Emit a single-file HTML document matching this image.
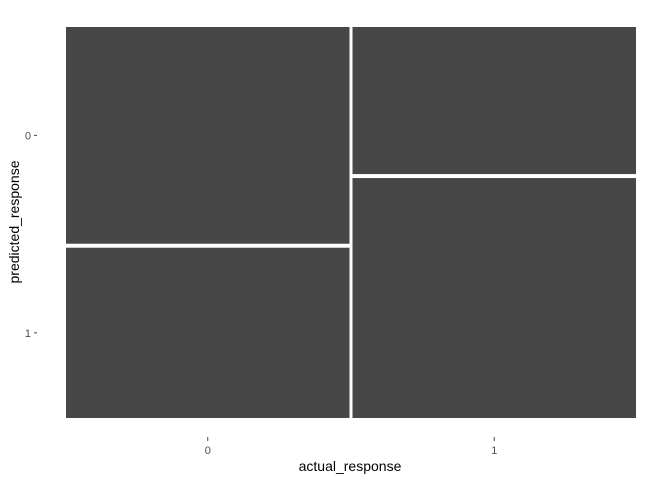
<!DOCTYPE html>
<html><head><meta charset="utf-8"><style>
html,body{margin:0;padding:0;background:#fff;}
svg{display:block;font-family:"Liberation Sans",Arial,sans-serif;}
</style></head><body>
<svg id="chart" width="672" height="480" viewBox="0 0 672 480">
<g id="tiles"></g>
<g id="axes"></g>
<text x="350" y="471" text-anchor="middle" font-size="14" fill="#000">actual_response</text>
<text transform="translate(19,222) rotate(-90)" text-anchor="middle" font-size="14" fill="#000">predicted_response</text>
</svg>
<script>
const xCategories = ["0", "1"];
const yCategories = ["0", "1"];
const counts0 = [56, 44];
const counts1 = [38, 62];
const counts = [counts0, counts1];

const NS = "http://www.w3.org/2000/svg";
const L = 66, R = 636, T = 27, B = 418, GX = 3, GY = 4;
const totals = counts.map(c => c.reduce((a, b) => a + b, 0));
const grand = totals.reduce((a, b) => a + b, 0);
const W = R - L - GX * (counts.length - 1);
const H = B - T;
const tiles = document.getElementById('tiles');
const axes = document.getElementById('axes');
let x = L;
const colCenters = [];
const firstColCenters = [];
counts.forEach((col, i) => {
  const w = W * totals[i] / grand;
  const hAvail = H - GY * (col.length - 1);
  let y = T;
  col.forEach((v, j) => {
    const h = hAvail * v / totals[i];
    const r = document.createElementNS(NS, 'rect');
    r.setAttribute('x', x); r.setAttribute('y', y);
    r.setAttribute('width', w); r.setAttribute('height', h);
    r.setAttribute('fill', '#474747');
    
    
    tiles.appendChild(r);
    if (i === 0) firstColCenters.push(y + h / 2);
    y += h + GY;
  });
  colCenters.push(x + w / 2);
  x += w + GX;
});
xCategories.forEach((c, i) => {
  const cx = colCenters[i];
  const tk = document.createElementNS(NS, 'line');
  tk.setAttribute('x1', cx); tk.setAttribute('x2', cx);
  tk.setAttribute('y1', 437); tk.setAttribute('y2', 441);
  tk.setAttribute('stroke', '#444'); tk.setAttribute('stroke-width', 1);
  
  
  axes.appendChild(tk);
  const t = document.createElementNS(NS, 'text');
  t.setAttribute('x', cx); t.setAttribute('y', 454);
  t.setAttribute('text-anchor', 'middle'); t.setAttribute('font-size', '11');
  t.setAttribute('fill', '#4d4d4d');
  t.textContent = c;
  
  
  axes.appendChild(t);
});
yCategories.forEach((c, j) => {
  const cy = firstColCenters[j];
  const t = document.createElementNS(NS, 'text');
  t.setAttribute('x', 31); t.setAttribute('y', cy + 4);
  t.setAttribute('text-anchor', 'end'); t.setAttribute('font-size', '11');
  t.setAttribute('fill', '#4d4d4d');
  t.textContent = c;
  
  
  axes.appendChild(t);
  const tk = document.createElementNS(NS, 'line');
  tk.setAttribute('x1', 34); tk.setAttribute('x2', 37);
  tk.setAttribute('y1', cy); tk.setAttribute('y2', cy);
  tk.setAttribute('stroke', '#444'); tk.setAttribute('stroke-width', 1);
  
  
  axes.appendChild(tk);
});
</script>
</body></html>
